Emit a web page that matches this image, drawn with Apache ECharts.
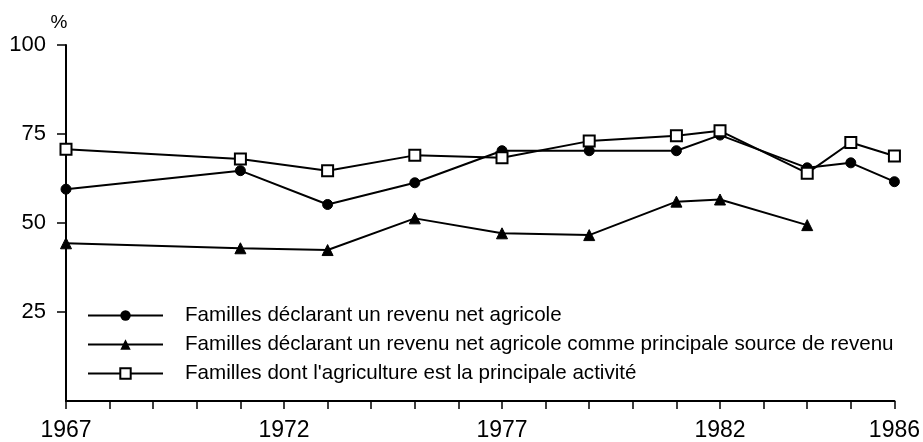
<!DOCTYPE html>
<html>
<head>
<meta charset="utf-8">
<script src="https://cdn.jsdelivr.net/npm/echarts@6/dist/echarts.min.js"></script>
<style>
  html, body { margin: 0; padding: 0; background: #fff; }
  #main { width: 923px; height: 442px; }
</style>
</head>
<body>
<div id="main"></div>
<script>
// years with observations
var years = [1967, 1971, 1973, 1975, 1977, 1979, 1981, 1982, 1984, 1985, 1986];
// Familles déclarant un revenu net agricole
var revenuNet = [59.5, 64.7, 55.2, 61.3, 70.3, 70.3, 70.3, 74.7, 65.5, 66.9, 61.6];
// ... comme principale source de revenu
var sourcePrincipale = [44.3, 42.9, 42.4, 51.3, 47.1, 46.6, 56.0, 56.6, 49.4, null, null];
// Familles dont l'agriculture est la principale activité
var activitePrincipale = [70.7, 68.0, 64.7, 69.0, 68.3, 73.0, 74.5, 75.9, 64.0, 72.6, 68.8];

var seriesNames = [
  "Familles déclarant un revenu net agricole",
  "Familles déclarant un revenu net agricole comme principale source de revenu",
  "Familles dont l'agriculture est la principale activité"
];
var xLabels = [1967, 1972, 1977, 1982, 1986];

function pairs(vals) {
  var out = [];
  for (var i = 0; i < years.length; i++) {
    if (vals[i] !== null) out.push([years[i], vals[i]]);
  }
  return out;
}

var font = "'Liberation Sans', Arial, sans-serif";
var chart = echarts.init(document.getElementById("main"));
chart.setOption({
  animation: false,
  grid: { left: 66, right: 28, top: 45, bottom: 41 },
  legend: {
    orient: "vertical",
    left: 82,
    top: 300,
    itemWidth: 75,
    itemHeight: 13,
    itemGap: 8,
    textStyle: { fontFamily: font, fontSize: 20.6, color: "#000", padding: [0, 0, 0, 17] },
    data: seriesNames
  },
  xAxis: {
    type: "value",
    min: 1967,
    max: 1986,
    interval: 1,
    axisLine: { lineStyle: { color: "#000", width: 2 } },
    axisTick: { show: true, length: 8, lineStyle: { color: "#000", width: 1.5 } },
    splitLine: { show: false },
    axisLabel: {
      color: "#000",
      fontFamily: font,
      fontSize: 23,
      margin: 18,
      showMaxLabel: true,
      formatter: function (v) { return xLabels.indexOf(v) >= 0 ? String(v) : ""; }
    }
  },
  yAxis: {
    type: "value",
    min: 0,
    max: 100,
    interval: 25,
    name: "%",
    nameLocation: "end",
    nameGap: 13,
    nameTextStyle: { color: "#000", fontFamily: font, fontSize: 19, padding: [0, 14, 0, 0] },
    axisLine: { show: true, lineStyle: { color: "#000", width: 2 } },
    axisTick: { show: true, length: 9, lineStyle: { color: "#000", width: 1.5 } },
    splitLine: { show: false },
    axisLabel: {
      color: "#000",
      fontFamily: font,
      fontSize: 22,
      margin: 20,
      showMinLabel: false
    }
  },
  series: [
    {
      name: seriesNames[0],
      type: "line",
      data: pairs(revenuNet),
      symbol: "circle",
      symbolSize: 10,
      lineStyle: { color: "#000", width: 2 },
      itemStyle: { color: "#000", borderColor: "#000" }
    },
    {
      name: seriesNames[1],
      type: "line",
      data: pairs(sourcePrincipale),
      symbol: "triangle",
      symbolSize: 11,
      lineStyle: { color: "#000", width: 2 },
      itemStyle: { color: "#000", borderColor: "#000" }
    },
    {
      name: seriesNames[2],
      type: "line",
      data: pairs(activitePrincipale),
      symbol: "rect",
      symbolSize: 11,
      lineStyle: { color: "#000", width: 2 },
      itemStyle: { color: "#fff", borderColor: "#000", borderWidth: 2 }
    }
  ]
});
</script>
</body>
</html>
